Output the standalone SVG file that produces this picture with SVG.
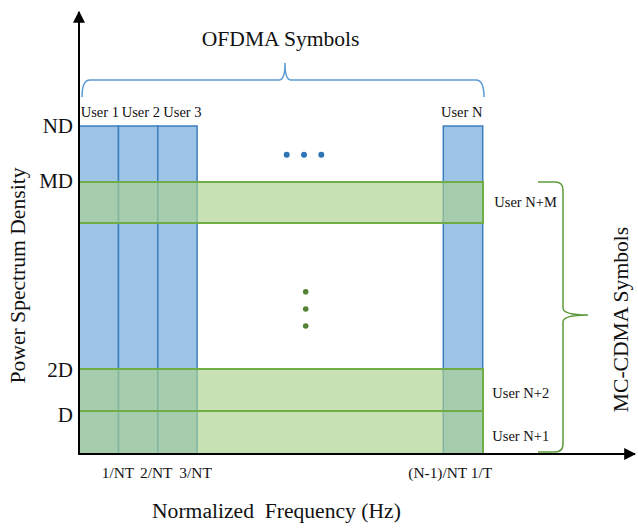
<svg xmlns="http://www.w3.org/2000/svg" width="638" height="530" viewBox="0 0 638 530">
  <defs>
    <style>
      text { font-family: "Liberation Serif", "Times New Roman", serif; fill: #111; }
      .big { font-size: 21.6px; }
      .usr { font-size: 14.5px; }
      .tick { font-size: 15.4px; }
      .lvl { font-size: 21px; text-anchor: end; }
      .col { fill: #9dc3e6; stroke: #3c7fc0; stroke-width: 1.5; }
      .band { fill: #a9d18e; fill-opacity: 0.65; stroke: #70ad47; stroke-width: 2; }
      .axis { stroke: #000; stroke-width: 2; fill: none; }
      .brace-b { stroke: #5b9bd5; stroke-width: 1.5; fill: none; }
      .brace-g { stroke: #5e9a3c; stroke-width: 1.5; fill: none; }
    </style>
    <marker id="arrow" viewBox="0 0 10 10" refX="9" refY="5" markerWidth="6" markerHeight="6" markerUnits="strokeWidth" orient="auto">
      <path d="M0,0 L10,5 L0,10 z" fill="#000"/>
    </marker>
  </defs>
  <rect width="638" height="530" fill="#fff"/>

  <!-- OFDMA user columns -->
  <g id="user1"><rect class="col" x="79" y="126" width="39.5" height="328"/></g>
  <g id="user2"><rect class="col" x="118.5" y="126" width="39.3" height="328"/></g>
  <g id="user3"><rect class="col" x="157.8" y="126" width="39.3" height="328"/></g>
  <g id="userN"><rect class="col" x="443.3" y="126" width="39.4" height="328"/></g>

  <!-- MC-CDMA user bands -->
  <g id="userNM"><rect class="band" x="79" y="182" width="404" height="41"/></g>
  <g id="userN2"><rect class="band" x="79" y="369" width="404" height="42"/></g>
  <g id="userN1"><rect class="band" x="79" y="411" width="404" height="43"/></g>

  <!-- ellipsis dots -->
  <g id="dots-h" fill="#2e75b6">
    <circle cx="286.7" cy="154.7" r="3"/>
    <circle cx="304" cy="154.7" r="3"/>
    <circle cx="321.3" cy="154.7" r="3"/>
  </g>
  <g id="dots-v" fill="#548235">
    <circle cx="305.7" cy="291.7" r="2.8"/>
    <circle cx="305.7" cy="309" r="2.8"/>
    <circle cx="305.7" cy="326" r="2.8"/>
  </g>

  <!-- axes and braces -->
  <g id="connectors">
    <path class="axis" d="M79,455 L79,12" marker-end="url(#arrow)"/>
    <path class="axis" d="M78,454 L635,454" marker-end="url(#arrow)"/>
    <path class="brace-b" d="M82,97 Q82,80 90,80 L279,80 Q285,80 285,63 Q285,80 291,80 L476,80 Q484,80 484,97"/>
    <path class="brace-g" d="M538,182 L555,182 Q563,182 563,190 L563,308 Q563,315 588,315 Q563,315 563,322 L563,444 Q563,452 555,452 L538,452"/>
  </g>

  <!-- labels -->
  <g id="labels">
    <text class="big" x="201.7" y="45.5">OFDMA Symbols</text>
    <text class="usr" x="80.7" y="117">User 1</text>
    <text class="usr" x="121.7" y="117">User 2</text>
    <text class="usr" x="163.3" y="117">User 3</text>
    <text class="usr" x="441" y="117">User N</text>
    <text class="usr" x="494.3" y="207">User N+M</text>
    <text class="usr" x="492.3" y="398">User N+2</text>
    <text class="usr" x="492.3" y="441">User N+1</text>

    <text class="lvl" x="73" y="133">ND</text>
    <text class="lvl" x="73" y="188">MD</text>
    <text class="lvl" x="73" y="377">2D</text>
    <text class="lvl" x="73" y="422">D</text>

    <text class="tick" x="101.7" y="478">1/NT</text>
    <text class="tick" x="140" y="478">2/NT</text>
    <text class="tick" x="179.3" y="478">3/NT</text>
    <text class="tick" x="408.3" y="478">(N-1)/NT 1/T</text>

    <text class="big" x="152" y="518" xml:space="preserve">Normalized  Frequency (Hz)</text>
    <text class="big" text-anchor="middle" transform="translate(25,275.5) rotate(-90)">Power Spectrum Density</text>
    <text class="big" text-anchor="middle" transform="translate(628,319.5) rotate(-90)">MC-CDMA Symbols</text>
  </g>
</svg>
